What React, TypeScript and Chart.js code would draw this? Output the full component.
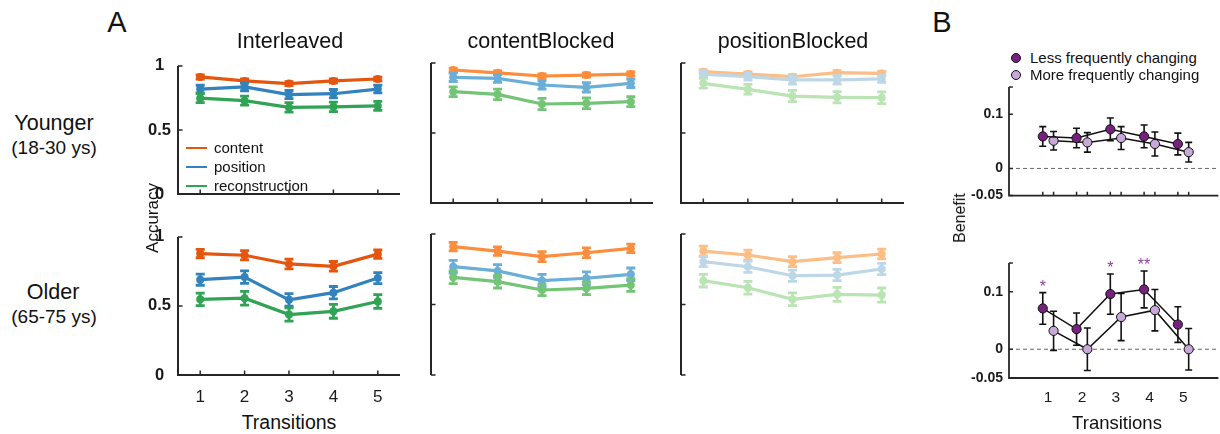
import React, { useEffect, useRef } from "react";
import { Chart, registerables } from "chart.js";

Chart.register(...registerables);

const FONT = "'Liberation Sans', Arial, Helvetica, sans-serif";
const AXIS_COLOR = "#262626";
Chart.defaults.font.family = FONT;

// ---------- data ----------
const transitions = [1, 2, 3, 4, 5];
const transitionLabels = ["1", "2", "3", "4", "5"];
const accuracyTicks = [0, 0.5, 1];
const accuracyTickLabels = ["0", "0.5", "1"];
const benefitTicks = [-0.05, 0, 0.1];
const benefitTickLabels = ["-0.05", "0", "0.1"];
const benefitTickMarks = [-0.05, 0, 0.1, 0.15];
const seriesNames = ["content", "position", "reconstruction"];
const benefitNames = ["Less frequently changing", "More frequently changing"];
const conditionNames = ["Interleaved", "contentBlocked", "positionBlocked"];

// Younger (18-30 ys)
const youngInterContent = [0.914, 0.883, 0.862, 0.883, 0.898];
const youngInterContentErr = [0.016, 0.015, 0.016, 0.015, 0.015];
const youngInterPosition = [0.819, 0.836, 0.776, 0.783, 0.819];
const youngInterPositionErr = [0.03, 0.03, 0.032, 0.033, 0.03];
const youngInterRecon = [0.748, 0.729, 0.676, 0.681, 0.688];
const youngInterReconErr = [0.035, 0.035, 0.037, 0.037, 0.035];

const youngContBContent = [0.95, 0.93, 0.907, 0.914, 0.921];
const youngContBContentErr = [0.013, 0.013, 0.016, 0.015, 0.015];
const youngContBPosition = [0.898, 0.89, 0.843, 0.826, 0.855];
const youngContBPositionErr = [0.03, 0.028, 0.03, 0.033, 0.03];
const youngContBRecon = [0.795, 0.776, 0.707, 0.712, 0.724];
const youngContBReconErr = [0.035, 0.037, 0.04, 0.038, 0.035];

const youngPosBContent = [0.938, 0.921, 0.902, 0.931, 0.926];
const youngPosBContentErr = [0.013, 0.015, 0.015, 0.015, 0.014];
const youngPosBPosition = [0.921, 0.902, 0.879, 0.879, 0.886];
const youngPosBPositionErr = [0.022, 0.024, 0.03, 0.03, 0.025];
const youngPosBRecon = [0.855, 0.812, 0.764, 0.755, 0.752];
const youngPosBReconErr = [0.035, 0.035, 0.04, 0.04, 0.042];

// Older (65-75 ys)
const oldInterContent = [0.879, 0.867, 0.804, 0.787, 0.875];
const oldInterContentErr = [0.03, 0.033, 0.035, 0.035, 0.03];
const oldInterPosition = [0.69, 0.709, 0.544, 0.596, 0.702];
const oldInterPositionErr = [0.04, 0.045, 0.045, 0.045, 0.04];
const oldInterRecon = [0.548, 0.556, 0.438, 0.461, 0.532];
const oldInterReconErr = [0.045, 0.05, 0.048, 0.05, 0.05];

const oldContBContent = [0.91, 0.879, 0.839, 0.867, 0.898];
const oldContBContentErr = [0.03, 0.03, 0.035, 0.035, 0.03];
const oldContBPosition = [0.768, 0.738, 0.669, 0.686, 0.714];
const oldContBPositionErr = [0.045, 0.045, 0.045, 0.045, 0.045];
const oldContBRecon = [0.693, 0.662, 0.603, 0.615, 0.638];
const oldContBReconErr = [0.045, 0.045, 0.04, 0.045, 0.045];

const oldPosBContent = [0.879, 0.851, 0.804, 0.832, 0.858];
const oldPosBContentErr = [0.035, 0.035, 0.035, 0.035, 0.035];
const oldPosBPosition = [0.804, 0.768, 0.704, 0.709, 0.752];
const oldPosBPositionErr = [0.035, 0.04, 0.04, 0.04, 0.04];
const oldPosBRecon = [0.669, 0.619, 0.537, 0.572, 0.567];
const oldPosBReconErr = [0.045, 0.045, 0.045, 0.05, 0.05];

// Benefit (panel B)
const youngLessBenefit = [0.059, 0.056, 0.072, 0.059, 0.045];
const youngLessBenefitErr = [0.018, 0.018, 0.021, 0.021, 0.02];
const youngMoreBenefit = [0.051, 0.048, 0.056, 0.045, 0.03];
const youngMoreBenefitErr = [0.017, 0.018, 0.021, 0.022, 0.018];
const oldLessBenefit = [0.071, 0.035, 0.096, 0.104, 0.043];
const oldLessBenefitErr = [0.0275, 0.028, 0.035, 0.032, 0.031];
const oldMoreBenefit = [0.032, 0.0, 0.056, 0.068, 0.0];
const oldMoreBenefitErr = [0.034, 0.037, 0.041, 0.036, 0.036];
const oldLessSignificance = ["*", "", "*", "**", ""];

// ---------- styles ----------
const palettes = [
  ["#E6550D", "#3182BD", "#31A354"],
  ["#FD8D3C", "#6BAED6", "#74C476"],
  ["#FDBE85", "#BDD7E7", "#BAE4B3"],
];
const LESS_COLOR = "#76207F";
const MORE_COLOR = "#C8A8D8";
const STAR_COLOR = "#8E3C9C";
const PAIR_OFFSET = 0.16;

type Stars = { labels: string[]; mean: number[]; err: number[]; x: number[] };

interface PanelSpec {
  id: string;
  left: number;
  top: number;
  right: number;
  bottom: number;
  yW: number;
  xH: number;
  padTop: number;
  padRight: number;
  xMin: number;
  xMax: number;
  yMin: number;
  yMax: number;
  datasets: any[];
  xLabelTicks: number[] | null;
  xLabels: string[];
  xFont: number;
  xPad: number;
  yLabelTicks: number[] | null;
  yLabels: string[];
  yFont: number;
  yPad: number;
  yAlign: "near" | "center";
  drawX: boolean;
  xMarks: number[];
  yMarks: number[];
  axisWidth: number;
  tickLen: number;
  zeroLine?: boolean;
  stars?: Stars;
}

function accuracyDatasets(means: number[][], errs: number[][], colors: string[]) {
  return means.map((m, k) => ({
    label: seriesNames[k],
    data: transitions.map((t, i) => ({ x: t, y: m[i] })),
    errors: errs[k],
    borderColor: colors[k],
    backgroundColor: colors[k],
    pointBackgroundColor: colors[k],
    pointBorderWidth: 0,
    pointRadius: 4,
    borderWidth: 3.2,
    errColor: colors[k],
    errWidth: 2.8,
    cap: 4.5,
    clip: false,
    order: 3 - k,
  }));
}

function benefitDatasets(less: number[], lessErr: number[], more: number[], moreErr: number[]) {
  const make = (vals: number[], errs: number[], off: number, color: string, k: number) => ({
    label: benefitNames[k],
    data: transitions.map((t, i) => ({ x: t + off, y: vals[i] })),
    errors: errs,
    borderColor: "#111",
    borderWidth: 1.5,
    pointBackgroundColor: color,
    pointBorderColor: "#111",
    pointBorderWidth: 1,
    pointRadius: 4.6,
    errColor: "#111",
    errWidth: 1.6,
    cap: 3.5,
    clip: false,
    order: k + 1,
  });
  return [
    make(less, lessErr, -PAIR_OFFSET, LESS_COLOR, 0),
    make(more, moreErr, PAIR_OFFSET, MORE_COLOR, 1),
  ];
}

const colLR = [
  [178, 400],
  [431, 653],
  [681, 904],
];
const rowTB = [
  [63, 203],
  [234, 375],
];

const youngMeans = [
  [youngInterContent, youngInterPosition, youngInterRecon],
  [youngContBContent, youngContBPosition, youngContBRecon],
  [youngPosBContent, youngPosBPosition, youngPosBRecon],
];
const youngErrs = [
  [youngInterContentErr, youngInterPositionErr, youngInterReconErr],
  [youngContBContentErr, youngContBPositionErr, youngContBReconErr],
  [youngPosBContentErr, youngPosBPositionErr, youngPosBReconErr],
];
const oldMeans = [
  [oldInterContent, oldInterPosition, oldInterRecon],
  [oldContBContent, oldContBPosition, oldContBRecon],
  [oldPosBContent, oldPosBPosition, oldPosBRecon],
];
const oldErrs = [
  [oldInterContentErr, oldInterPositionErr, oldInterReconErr],
  [oldContBContentErr, oldContBPositionErr, oldContBReconErr],
  [oldPosBContentErr, oldPosBPositionErr, oldPosBReconErr],
];

function buildPanels(): PanelSpec[] {
  const list: PanelSpec[] = [];
  for (let r = 0; r < 2; r++) {
    for (let c = 0; c < 3; c++) {
      const means = r === 0 ? youngMeans[c] : oldMeans[c];
      const errs = r === 0 ? youngErrs[c] : oldErrs[c];
      const showXLabels = r === 1 && c === 0;
      list.push({
        id: `A-${r}-${c}`,
        left: colLR[c][0],
        right: colLR[c][1],
        top: rowTB[r][0],
        bottom: rowTB[r][1],
        yW: c === 0 ? 44 : 6,
        xH: showXLabels ? 36 : 8,
        padTop: 14,
        padRight: 8,
        xMin: 0.5,
        xMax: 5.5,
        yMin: 0,
        yMax: 1,
        datasets: accuracyDatasets(means, errs, palettes[c]),
        xLabelTicks: showXLabels ? transitions : null,
        xLabels: transitionLabels,
        xFont: 17,
        xPad: 12,
        yLabelTicks: c === 0 ? accuracyTicks : null,
        yLabels: accuracyTickLabels,
        yFont: 16.5,
        yPad: 7,
        yAlign: "center",
        drawX: r === 0 || c === 0,
        xMarks: r === 0 || c === 0 ? transitions : [],
        yMarks: accuracyTicks,
        axisWidth: 2,
        tickLen: 3.5,
      });
    }
  }
  const pairMarks: number[] = [];
  transitions.forEach((t) => {
    pairMarks.push(t - PAIR_OFFSET, t + PAIR_OFFSET);
  });
  list.push({
    id: "B-0",
    left: 1009,
    right: 1220,
    top: 87,
    bottom: 202,
    yW: 45,
    xH: 8,
    padTop: 16,
    padRight: 4,
    xMin: -0.16,
    xMax: 6.04,
    yMin: -0.05,
    yMax: 0.15,
    datasets: benefitDatasets(youngLessBenefit, youngLessBenefitErr, youngMoreBenefit, youngMoreBenefitErr),
    xLabelTicks: null,
    xLabels: transitionLabels,
    xFont: 15.5,
    xPad: 10,
    yLabelTicks: benefitTicks,
    yLabels: benefitTickLabels,
    yFont: 14,
    yPad: 6,
    yAlign: "near",
    drawX: true,
    xMarks: pairMarks,
    yMarks: benefitTickMarks,
    axisWidth: 1.8,
    tickLen: 3,
    zeroLine: true,
  });
  list.push({
    id: "B-1",
    left: 1009,
    right: 1220,
    top: 263,
    bottom: 378,
    yW: 45,
    xH: 36,
    padTop: 30,
    padRight: 4,
    xMin: -0.16,
    xMax: 6.04,
    yMin: -0.05,
    yMax: 0.15,
    datasets: benefitDatasets(oldLessBenefit, oldLessBenefitErr, oldMoreBenefit, oldMoreBenefitErr),
    xLabelTicks: transitions,
    xLabels: transitionLabels,
    xFont: 15.5,
    xPad: 10,
    yLabelTicks: benefitTicks,
    yLabels: benefitTickLabels,
    yFont: 14,
    yPad: 6,
    yAlign: "near",
    drawX: true,
    xMarks: [],
    yMarks: benefitTickMarks,
    axisWidth: 1.8,
    tickLen: 3,
    zeroLine: true,
    stars: {
      labels: oldLessSignificance,
      mean: oldLessBenefit,
      err: oldLessBenefitErr,
      x: transitions.map((t) => t - PAIR_OFFSET),
    },
  });
  return list;
}

const panels = buildPanels();

function makeDecorPlugin(spec: PanelSpec) {
  return {
    id: "figureDecor",
    beforeDatasetsDraw(chart: any) {
      const { ctx, chartArea: ca } = chart;
      const xs = chart.scales.x;
      const ys = chart.scales.y;
      ctx.save();
      if (spec.zeroLine) {
        const py = ys.getPixelForValue(0);
        ctx.strokeStyle = "#666";
        ctx.lineWidth = 1;
        ctx.setLineDash([4, 3]);
        ctx.beginPath();
        ctx.moveTo(ca.left, py);
        ctx.lineTo(ca.right, py);
        ctx.stroke();
        ctx.setLineDash([]);
      }
      ctx.strokeStyle = AXIS_COLOR;
      ctx.lineWidth = spec.axisWidth;
      ctx.beginPath();
      ctx.moveTo(ca.left, ca.top);
      ctx.lineTo(ca.left, ca.bottom + (spec.drawX ? spec.axisWidth / 2 : 0));
      if (spec.drawX) {
        ctx.moveTo(ca.left - spec.axisWidth / 2, ca.bottom);
        ctx.lineTo(ca.right, ca.bottom);
      }
      ctx.stroke();
      ctx.lineWidth = 1.5;
      ctx.beginPath();
      spec.yMarks.forEach((v) => {
        const py = ys.getPixelForValue(v);
        ctx.moveTo(ca.left, py);
        ctx.lineTo(ca.left + spec.tickLen + spec.axisWidth / 2, py);
      });
      spec.xMarks.forEach((v) => {
        const px = xs.getPixelForValue(v);
        ctx.moveTo(px, ca.bottom);
        ctx.lineTo(px, ca.bottom - spec.tickLen - spec.axisWidth / 2);
      });
      ctx.stroke();
      ctx.restore();
    },
    beforeDatasetDraw(chart: any, args: any) {
      const ds = chart.data.datasets[args.index] as any;
      if (!ds.errors) return;
      const ctx = chart.ctx;
      const ys = chart.scales.y;
      ctx.save();
      ctx.strokeStyle = ds.errColor;
      ctx.lineWidth = ds.errWidth;
      ctx.beginPath();
      args.meta.data.forEach((pt: any, i: number) => {
        const v = ds.data[i].y;
        const e = ds.errors[i];
        const y1 = ys.getPixelForValue(v - e);
        const y2 = ys.getPixelForValue(v + e);
        ctx.moveTo(pt.x, y1);
        ctx.lineTo(pt.x, y2);
        ctx.moveTo(pt.x - ds.cap, y1);
        ctx.lineTo(pt.x + ds.cap, y1);
        ctx.moveTo(pt.x - ds.cap, y2);
        ctx.lineTo(pt.x + ds.cap, y2);
      });
      ctx.stroke();
      ctx.restore();
    },
    afterDatasetsDraw(chart: any) {
      if (!spec.stars) return;
      const st = spec.stars;
      const ctx = chart.ctx;
      const xs = chart.scales.x;
      const ys = chart.scales.y;
      ctx.save();
      ctx.fillStyle = STAR_COLOR;
      ctx.font = `16px ${FONT}`;
      ctx.textAlign = "center";
      ctx.textBaseline = "alphabetic";
      st.labels.forEach((lab, i) => {
        if (!lab) return;
        const px = xs.getPixelForValue(st.x[i]);
        const py = ys.getPixelForValue(st.mean[i] + st.err[i]);
        ctx.fillText(lab, px, py - 1);
      });
      ctx.restore();
    },
  };
}

function Panel({ spec }: { spec: PanelSpec }) {
  const ref = useRef<HTMLCanvasElement | null>(null);
  useEffect(() => {
    if (!ref.current) return;
    const chart = new Chart(ref.current, {
      type: "line",
      data: { datasets: spec.datasets },
      options: {
        animation: false,
        responsive: true,
        maintainAspectRatio: false,
        events: [],
        layout: { padding: { left: 0, top: spec.padTop, right: spec.padRight, bottom: 0 } },
        plugins: { legend: { display: false }, tooltip: { enabled: false } },
        scales: {
          x: {
            type: "linear",
            min: spec.xMin,
            max: spec.xMax,
            afterBuildTicks: (s: any) => {
              const vals = spec.xLabelTicks || [spec.xMin];
              s.ticks = vals.map((v) => ({ value: v }));
            },
            afterFit: (s: any) => {
              s.height = spec.xH;
            },
            grid: { display: false, drawTicks: false },
            border: { display: false },
            ticks: {
              display: !!spec.xLabelTicks,
              color: "#1a1a1a",
              font: { size: spec.xFont, family: FONT },
              padding: spec.xPad,
              maxRotation: 0,
              autoSkip: false,
              callback: (_v: any, i: number) => spec.xLabels[i],
            },
          },
          y: {
            type: "linear",
            min: spec.yMin,
            max: spec.yMax,
            afterBuildTicks: (s: any) => {
              const vals = spec.yLabelTicks || [spec.yMin];
              s.ticks = vals.map((v) => ({ value: v }));
            },
            afterFit: (s: any) => {
              s.width = spec.yW;
            },
            grid: { display: false, drawTicks: false },
            border: { display: false },
            ticks: {
              display: !!spec.yLabelTicks,
              color: "#1a1a1a",
              font: { size: spec.yFont, family: FONT, weight: "bold" },
              padding: spec.yPad,
              crossAlign: spec.yAlign,
              autoSkip: false,
              callback: (_v: any, i: number) => spec.yLabels[i],
            },
          },
        },
      } as any,
      plugins: [makeDecorPlugin(spec)],
    });
    return () => chart.destroy();
  }, [spec]);
  const w = spec.yW + (spec.right - spec.left) + spec.padRight;
  const h = spec.padTop + (spec.bottom - spec.top) + spec.xH;
  return (
    <div
      style={{
        position: "absolute",
        left: spec.left - spec.yW,
        top: spec.top - spec.padTop,
        width: w,
        height: h,
      }}
    >
      <canvas ref={ref} />
    </div>
  );
}

function Text({
  x,
  y,
  size,
  children,
  rotate,
  weight,
}: {
  x: number;
  y: number;
  size: number;
  children: React.ReactNode;
  rotate?: boolean;
  weight?: string;
}) {
  return (
    <div
      style={{
        position: "absolute",
        left: x,
        top: y,
        transform: `translate(-50%, -50%)${rotate ? " rotate(-90deg)" : ""}`,
        fontSize: size,
        lineHeight: 1,
        whiteSpace: "nowrap",
        fontWeight: weight || "normal",
        color: "#111",
      }}
    >
      {children}
    </div>
  );
}

const legendAY = [148, 167, 186];
const legendBY = [58, 75];
const titleX = [290, 541, 793];

export default function App() {
  return (
    <div
      style={{
        position: "absolute",
        left: 0,
        top: 0,
        width: 1220,
        height: 434,
        overflow: "hidden",
        background: "#fff",
        fontFamily: FONT,
      }}
    >
      {panels.map((p) => (
        <Panel key={p.id} spec={p} />
      ))}

      <Text x={117} y={22} size={29}>A</Text>
      <Text x={942} y={22} size={29}>B</Text>

      {conditionNames.map((n, i) => (
        <Text key={n} x={titleX[i]} y={42} size={21.5}>
          {n}
        </Text>
      ))}

      <Text x={54} y={124} size={21.5}>Younger</Text>
      <Text x={54} y={147} size={19}>(18-30 ys)</Text>
      <Text x={53} y={293} size={21.5}>Older</Text>
      <Text x={54} y={316} size={19}>(65-75 ys)</Text>

      <Text x={152} y={218} size={17} rotate>
        Accuracy
      </Text>
      <Text x={289} y={423} size={19.5}>Transitions</Text>
      <Text x={960} y={218} size={16} rotate>
        Benefit
      </Text>
      <Text x={1117} y={423} size={18.5}>Transitions</Text>

      {seriesNames.map((n, k) => (
        <React.Fragment key={n}>
          <div
            style={{
              position: "absolute",
              left: 186,
              top: legendAY[k] - 1,
              width: 21,
              height: 2,
              background: palettes[0][k],
            }}
          />
          <div
            style={{
              position: "absolute",
              left: 214,
              top: legendAY[k],
              transform: "translateY(-55%)",
              fontSize: 15,
              lineHeight: 1,
              color: "#111",
              whiteSpace: "nowrap",
            }}
          >
            {n}
          </div>
        </React.Fragment>
      ))}

      {benefitNames.map((n, k) => (
        <React.Fragment key={n}>
          <div
            style={{
              position: "absolute",
              left: 1016 - 5,
              top: legendBY[k] - 5,
              width: 8,
              height: 8,
              borderRadius: "50%",
              border: "1px solid #111",
              background: k === 0 ? LESS_COLOR : MORE_COLOR,
            }}
          />
          <div
            style={{
              position: "absolute",
              left: 1030,
              top: legendBY[k],
              transform: "translateY(-55%)",
              fontSize: 15,
              lineHeight: 1,
              color: "#111",
              whiteSpace: "nowrap",
            }}
          >
            {n}
          </div>
        </React.Fragment>
      ))}
    </div>
  );
}
